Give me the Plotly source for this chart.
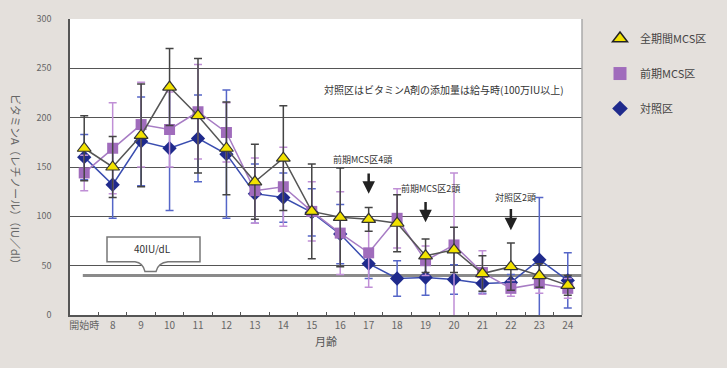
import plotly.graph_objects as go

categories = ["開始時", "8", "9", "10", "11", "12", "13", "14", "15", "16",
              "17", "18", "19", "20", "21", "22", "23", "24"]

full_mcs = [169, 150, 182, 231, 202, 169, 135, 159, 105, 99, 97, 93, 60, 66, 42, 49, 40, 30]
full_mcs_err = [33, 31, 52, 39, 58, 47, 38, 53, 48, 50, 12, 29, 17, 23, 18, 24, 12, 10]

early_mcs = [144, 169, 193, 188, 206, 185, 126, 130, 105, 83, 63, 98, 55, 71, 43, 27, 32, 27]
early_mcs_err = [18, 46, 43, 38, 48, 30, 33, 40, 30, 42, 35, 30, 15, 73, 22, 8, 10, 10]

control = [160, 132, 176, 169, 179, 163, 123, 119, 104, 82, 52, 37, 38, 36, 32, 33, 56, 35]
control_err = [23, 34, 45, 63, 44, 65, 30, 25, 24, 30, 15, 18, 18, 15, 10, 8, 63, 28]

series_names = ["全期間MCS区", "前期MCS区", "対照区"]

fig = go.Figure()

fig.add_trace(go.Scatter(
    x=categories, y=control, mode="lines+markers", showlegend=False,
    line=dict(color="#3a4db0", width=1.5),
    marker=dict(symbol="diamond", size=11, color="#1f2a8c"),
    error_y=dict(type="data", array=control_err, color="#5566c8", thickness=1.5, width=4),
))
fig.add_trace(go.Scatter(
    x=categories, y=early_mcs, mode="lines+markers", showlegend=False,
    line=dict(color="#a77cc4", width=1.5),
    marker=dict(symbol="square", size=11, color="#a06cbc"),
    error_y=dict(type="data", array=early_mcs_err, color="#c08fd6", thickness=1.5, width=4),
))
fig.add_trace(go.Scatter(
    x=categories, y=full_mcs, mode="lines+markers", showlegend=False,
    line=dict(color="#555555", width=1.5),
    marker=dict(symbol="triangle-up", size=12, color="#f2e200",
                line=dict(color="#333333", width=1.2)),
    error_y=dict(type="data", array=full_mcs_err, color="#444444", thickness=1.5, width=4),
))

legend_styles = [
    dict(symbol="triangle-up", size=13, color="#f2e200", line=dict(color="#222", width=1.5)),
    dict(symbol="square", size=13, color="#a06cbc"),
    dict(symbol="diamond", size=12, color="#1f2a8c"),
]
for i, (nm, mk) in enumerate(zip(series_names, legend_styles)):
    fig.add_trace(go.Scatter(x=[None], y=[None], mode="markers", name=nm,
                             marker=mk, legendgroup=str(i)))


def px(p):
    return (p - 70) / 512


shapes = []
shapes.append(dict(type="line", xref="x", yref="y", x0=-0.05, x1=17.5, y0=40, y1=40,
                   line=dict(color="#8a8a8a", width=3), layer="below"))
path = (f"M {px(107)},79 L {px(200)},79 L {px(200)},54 L {px(168)},54 "
        f"Q {px(158)},53 {px(156)},44 L {px(145)},44 Q {px(143)},53 {px(135)},54 "
        f"L {px(107)},54 Z")
shapes.append(dict(type="path", xref="paper", yref="y", path=path,
                   fillcolor="white", line=dict(color="#777", width=1.5)))
shapes.append(dict(type="line", xref="paper", yref="paper", x0=1, x1=1, y0=0, y1=1,
                   line=dict(color="#aaa", width=1.5)))


def arrow(cat_idx, head, tail):
    return dict(x=cat_idx, y=head, ax=cat_idx, ay=tail, xref="x", yref="y",
                axref="x", ayref="y", showarrow=True, arrowhead=2, arrowsize=1,
                arrowwidth=2.5, arrowcolor="#222", text="")


def label(xpix, yval, txt, size=9):
    return dict(x=px(xpix), xref="paper", xanchor="center", y=yval, yref="y",
                yanchor="middle", text=txt, showarrow=False,
                font=dict(size=size, color="#333"))


annotations = [
    label(152, 67, "40IU/dL", 10),
    label(444, 229, "対照区はビタミンA剤の添加量は給与時(100万IU以上)", 10),
    arrow(10, 123, 145),
    label(362, 158, "前期MCS区4頭"),
    arrow(12, 94, 116),
    label(430, 128, "前期MCS区2頭"),
    arrow(15, 86, 109),
    label(515, 119, "対照区2頭"),
    dict(x=px(16), xref="paper", xanchor="center", y=(315 - 181) / 298, yref="paper",
         yanchor="middle", text="ビタミンA（レチノール）（IU／dl）",
         textangle=90, showarrow=False, font=dict(size=11, color="#666")),
]

fig.update_layout(
    width=727, height=368,
    margin=dict(l=70, r=145, t=17, b=53),
    paper_bgcolor="#e4e0dc",
    plot_bgcolor="white",
    font=dict(family="Noto Sans CJK JP", size=10, color="#555"),
    shapes=shapes,
    annotations=annotations,
    legend=dict(x=px(600), xanchor="left", y=0.983, yanchor="top",
                bgcolor="rgba(0,0,0,0)", tracegroupgap=16,
                font=dict(size=11, color="#444")),
    xaxis=dict(
        type="category", categoryorder="array", categoryarray=categories,
        range=[-0.5, 17.5], showgrid=False,
        showline=True, linecolor="#555", linewidth=1.5, mirror=False,
        ticks="inside", tickson="boundaries", ticklen=3, tickcolor="#555",
        tickangle=0, tickfont=dict(size=10, color="#666"),
        title=dict(text="月齢", font=dict(size=11, color="#555"), standoff=8),
    ),
    yaxis=dict(
        range=[0, 300], dtick=50, showgrid=True, gridcolor="#555", gridwidth=1.2,
        showline=True, linecolor="#555", linewidth=1.5,
        ticks="", tickfont=dict(size=9, color="#666"), ticklabelstandoff=15,
        zeroline=False,
    ),
)

fig.write_html("out.html", config={"displayModeBar": False},
               post_script="document.body.style.margin='0px';document.body.style.background='#e4e0dc';")
